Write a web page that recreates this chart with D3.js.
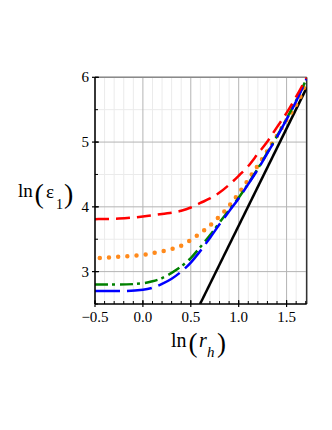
<!DOCTYPE html>
<html>
<head>
<meta charset="utf-8">
<script src="https://d3js.org/d3.v7.min.js"></script>
<style>
  body { margin: 0px; padding: 0px; background: #fff; }
  text { font-family: "Liberation Serif", "Times New Roman", serif; fill: #000; }
</style>
</head>
<body>
<div id="svg_cont"></div>
<script>

// data
var x_blue  = [-0.5, -0.25, 0.0, 0.1, 0.2, 0.3, 0.4, 0.5, 0.6, 0.7, 0.8, 0.9, 1.0, 1.1, 1.2, 1.3, 1.4, 1.5, 1.6, 1.71];
var y_blue  = [2.70, 2.70, 2.72, 2.75, 2.81, 2.89, 3.00, 3.14, 3.32, 3.52, 3.73, 3.93, 4.13, 4.35, 4.58, 4.83, 5.08, 5.35, 5.63, 5.98];

var x_green = [-0.5, -0.25, 0.0, 0.1, 0.2, 0.3, 0.4, 0.5, 0.6, 0.7, 0.8, 0.9, 1.0, 1.1, 1.2, 1.3, 1.4, 1.5, 1.6, 1.71];
var y_green = [2.80, 2.80, 2.82, 2.85, 2.90, 2.98, 3.08, 3.21, 3.38, 3.56, 3.76, 3.95, 4.14, 4.36, 4.59, 4.84, 5.09, 5.36, 5.64, 5.98];

var x_orange = [-0.45, -0.35, -0.25, -0.15, -0.05, 0.05, 0.15, 0.25, 0.35, 0.45, 0.55, 0.65, 0.75, 0.85, 0.95, 1.05, 1.15, 1.25, 1.35, 1.45, 1.55, 1.65, 1.71];
var y_orange = [3.21, 3.22, 3.23, 3.24, 3.25, 3.27, 3.30, 3.33, 3.37, 3.44, 3.54, 3.65, 3.78, 3.93, 4.11, 4.31, 4.53, 4.75, 4.98, 5.22, 5.46, 5.72, 5.96];

var x_red = [-0.5, -0.25, 0.0, 0.2, 0.4, 0.5, 0.6, 0.7, 0.8, 0.9, 1.0, 1.1, 1.2, 1.3, 1.4, 1.5, 1.6, 1.71];
var y_red = [3.81, 3.82, 3.85, 3.89, 3.94, 3.99, 4.06, 4.13, 4.22, 4.34, 4.48, 4.63, 4.82, 5.01, 5.23, 5.45, 5.70, 6.00];

var x_black = [0.597, 1.71];
var y_black = [2.50, 5.84];

var x_ticks = [-0.5, 0.0, 0.5, 1.0, 1.5];
var x_tick_labels = ["\u22120.5", "0.0", "0.5", "1.0", "1.5"];
var y_ticks = [3, 4, 5, 6];
var y_tick_labels = ["3", "4", "5", "6"];

var serif = "'Liberation Serif', 'Times New Roman', serif";
var w = 332, h = 430;
var margin = {left: 95, right: 25.3, top: 77.3, bottom: 126};

var svg_main = d3.select("div#svg_cont")
  .append("svg")
  .attr("width", w)
  .attr("height", h);

svg_main.append("rect").attr("width", w).attr("height", h).attr("fill", "#fff");

const x = d3.scaleLinear()
  .domain([-0.5, 1.71])
  .range([margin.left, w - margin.right]);

const y = d3.scaleLinear()
  .domain([2.5, 6])
  .range([h - margin.bottom, margin.top]);

svg_main.append("defs").append("clipPath").attr("id", "plot_clip")
  .append("rect")
  .attr("x", x.range()[0]).attr("y", y.range()[1])
  .attr("width", x.range()[1] - x.range()[0])
  .attr("height", y.range()[0] - y.range()[1]);

// grid
var x_minor = d3.range(-0.5, 1.71, 0.1).map(d => Math.round(d * 10) / 10);
var y_minor = d3.range(2.5, 6.01, 0.5);

var grid = svg_main.append("g");
grid.selectAll(".xminor").data(x_minor.filter(d => x_ticks.indexOf(d) < 0))
  .enter().append("line")
  .attr("x1", d => x(d)).attr("x2", d => x(d))
  .attr("y1", y(2.5)).attr("y2", y(6))
  .attr("stroke", "#ebebeb").attr("stroke-width", 1);
grid.selectAll(".yminor").data(y_minor.filter(d => y_ticks.indexOf(d) < 0))
  .enter().append("line")
  .attr("x1", x(-0.5)).attr("x2", x(1.71))
  .attr("y1", d => y(d)).attr("y2", d => y(d))
  .attr("stroke", "#ebebeb").attr("stroke-width", 1);
grid.selectAll(".xmajor").data(x_ticks)
  .enter().append("line")
  .attr("x1", d => x(d)).attr("x2", d => x(d))
  .attr("y1", y(2.5)).attr("y2", y(6))
  .attr("stroke", "#b4b4b4").attr("stroke-width", 1);
grid.selectAll(".ymajor").data(y_ticks)
  .enter().append("line")
  .attr("x1", x(-0.5)).attr("x2", x(1.71))
  .attr("y1", d => y(d)).attr("y2", d => y(d))
  .attr("stroke", "#b4b4b4").attr("stroke-width", 1);

// frame top / right
svg_main.append("line")
  .attr("x1", x(-0.5)).attr("x2", x(1.71)).attr("y1", y(6)).attr("y2", y(6))
  .attr("stroke", "#8a8a8a").attr("stroke-width", 1.5);
svg_main.append("line")
  .attr("x1", x(1.71)).attr("x2", x(1.71)).attr("y1", y(6)).attr("y2", y(2.5))
  .attr("stroke", "#333").attr("stroke-width", 1.5);

// curves
function make_line(xs, ys) {
  return d3.line().x((d, i) => x(xs[i])).y((d, i) => y(ys[i])).curve(d3.curveMonotoneX)(xs);
}

var curves = svg_main.append("g").attr("clip-path", "url(#plot_clip)");

curves.append("path").attr("d", make_line(x_black, y_black))
  .attr("fill", "none").attr("stroke", "#000").attr("stroke-width", 2.5);

curves.append("path").attr("d", make_line(x_orange, y_orange))
  .attr("fill", "none").attr("stroke", "#ff8a1c").attr("stroke-width", 4.5)
  .attr("stroke-linecap", "round").attr("stroke-dasharray", "0 9.2");

curves.append("path").attr("d", make_line(x_green, y_green))
  .attr("fill", "none").attr("stroke", "#008000").attr("stroke-width", 2.5)
  .attr("stroke-dasharray", "13 4 3 5");

curves.append("path").attr("d", make_line(x_blue, y_blue))
  .attr("fill", "none").attr("stroke", "#0000ff").attr("stroke-width", 2.5)
  .attr("stroke-dasharray", "25 7");

curves.append("path").attr("d", make_line(x_red, y_red))
  .attr("fill", "none").attr("stroke", "#ff0000").attr("stroke-width", 2.5)
  .attr("stroke-dasharray", "14 7");

// axes
var x_axis = svg_main.append("g").attr("transform", "translate(0," + y(2.5) + ")");
x_axis.append("line").attr("x1", x(-0.5)).attr("x2", x(1.71)).attr("stroke", "#000").attr("stroke-width", 1.5);
x_axis.selectAll(".minor").data(x_minor)
  .enter().append("line")
  .attr("x1", d => x(d)).attr("x2", d => x(d)).attr("y1", 0).attr("y2", -3)
  .attr("stroke", "#000").attr("stroke-width", 1);
x_axis.selectAll(".major").data(x_ticks)
  .enter().append("line")
  .attr("x1", d => x(d)).attr("x2", d => x(d)).attr("y1", -4).attr("y2", 3)
  .attr("stroke", "#000").attr("stroke-width", 1.2);
x_axis.selectAll("text").data(x_ticks)
  .enter().append("text")
  .attr("x", d => x(d)).attr("y", 18)
  .attr("text-anchor", "middle").attr("font-size", "15px").attr("font-family", serif)
  .text((d, i) => x_tick_labels[i]);

var y_axis = svg_main.append("g").attr("transform", "translate(" + x(-0.5) + ",0)");
y_axis.append("line").attr("y1", y(2.5)).attr("y2", y(6)).attr("stroke", "#000").attr("stroke-width", 1.5);
y_axis.selectAll(".minor").data(y_minor)
  .enter().append("line")
  .attr("y1", d => y(d)).attr("y2", d => y(d)).attr("x1", 0).attr("x2", 3)
  .attr("stroke", "#000").attr("stroke-width", 1);
y_axis.selectAll(".major").data(y_ticks)
  .enter().append("line")
  .attr("y1", d => y(d)).attr("y2", d => y(d)).attr("x1", -3).attr("x2", 4)
  .attr("stroke", "#000").attr("stroke-width", 1.2);
y_axis.selectAll("text").data(y_ticks)
  .enter().append("text")
  .attr("x", -6).attr("y", d => y(d)).attr("dy", "0.33em")
  .attr("text-anchor", "end").attr("font-size", "15px").attr("font-family", serif)
  .text((d, i) => y_tick_labels[i]);

// axis titles
var xl = svg_main.append("g").attr("font-family", serif);
xl.append("text").attr("x", 171).attr("y", 346.5).attr("font-size", "20px").text("ln");
xl.append("text").attr("x", 188.5).attr("y", 351.5).attr("font-size", "27px").text("(");
xl.append("text").attr("x", 199).attr("y", 346.5).attr("font-size", "20px").attr("font-style", "italic").text("r");
xl.append("text").attr("x", 207).attr("y", 357).attr("font-size", "15px").attr("font-style", "italic").text("h");
xl.append("text").attr("x", 217).attr("y", 351.5).attr("font-size", "27px").text(")");

var yl = svg_main.append("g").attr("font-family", serif);
yl.append("text").attr("x", 18).attr("y", 197).attr("font-size", "19px").text("ln");
yl.append("text").attr("x", 34.5).attr("y", 203).attr("font-size", "28px").text("(");
yl.append("text").attr("x", 46).attr("y", 198).attr("font-size", "19px").text("\u03b5");
yl.append("text").attr("x", 56).attr("y", 209).attr("font-size", "14px").text("1");
yl.append("text").attr("x", 64).attr("y", 203).attr("font-size", "28px").text(")");

</script>
</body>
</html>
